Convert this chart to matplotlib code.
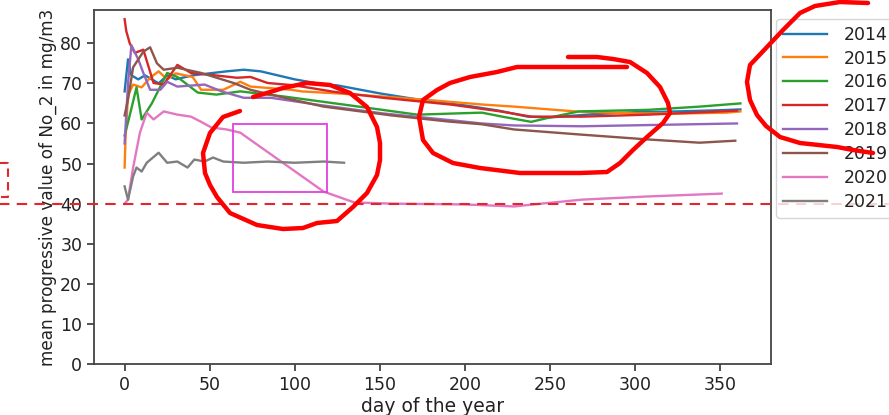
import matplotlib
matplotlib.use("Agg")
import matplotlib.pyplot as plt
from matplotlib.patches import Rectangle

# values (day of year, progressive mean NO2)
d2014 = [0, 2, 4, 8, 12, 16, 20, 25, 30, 40, 50, 60, 70, 80, 90, 100, 117, 125, 150, 172, 200, 220, 237, 250, 275, 300, 325, 350, 362]
v2014 = [68, 76, 72, 71, 72, 71, 70, 72, 71, 72, 72.5, 73, 73.4, 73, 72, 71, 69.7, 69.5, 67.5, 66, 64.5, 63.2, 61.7, 61.5, 62.3, 62.8, 63, 63.3, 63.5]

d2015 = [0, 0.5, 2, 5, 10, 15, 20, 25, 30, 40, 45, 58, 68, 74, 98, 104, 125, 152, 180, 211, 229, 265, 300, 330, 354, 362]
v2015 = [49, 56, 67, 69.7, 69, 71.4, 73, 71, 72.5, 71.6, 68.4, 68.4, 70.4, 69.2, 68.4, 68, 67.5, 66.7, 65.8, 64.7, 64.2, 63, 62.5, 62.5, 62.7, 63]

d2016 = [0, 3, 7, 10, 16, 25, 31, 43, 54, 68, 94, 129, 172, 210, 222, 239, 249, 267, 308, 338, 362]
v2016 = [57, 62, 69, 61, 65, 72.6, 71.6, 67.7, 67.2, 68, 66.7, 64.7, 62.2, 62.7, 61.7, 60.4, 61.4, 63, 63.4, 64.2, 65]

d2017 = [0, 1, 3, 6, 11, 17, 23, 31, 39, 51, 66, 74, 84, 100, 123, 152, 192, 221, 239, 269, 308, 335, 360]
v2017 = [86, 83, 80, 77.6, 78.4, 70.1, 69.7, 74.6, 72.6, 72.1, 71.4, 71.6, 70.1, 69.5, 67.9, 66.4, 64.7, 63, 61.7, 61.7, 62.2, 62.7, 63.2]

d2018 = [0, 2, 4, 8, 11, 15, 21, 25, 31, 47, 57, 70, 86, 113, 152, 192, 210, 229, 269, 308, 360]
v2018 = [55, 70, 79.5, 76, 72.6, 68.4, 68.4, 70.4, 69.2, 69.7, 68, 66.4, 66.4, 64.7, 62.5, 60.8, 60, 59.5, 59.3, 59.6, 60]

d2019 = [0, 2, 5, 11, 15, 19, 23, 31, 45, 64, 74, 98, 117, 157, 190, 210, 229, 269, 308, 338, 359]
v2019 = [62, 66, 74, 77.9, 79, 75, 73.4, 73.9, 72.6, 70.1, 68.4, 66, 64.2, 62, 60.5, 59.8, 58.5, 57.2, 56, 55.2, 55.7]

d2020 = [0, 2, 5, 9, 13, 17, 23, 31, 39, 45, 51, 60, 68, 117, 135, 157, 200, 229, 245, 269, 308, 351]
v2020 = [40, 41, 49, 57.7, 62.7, 61, 63, 62.2, 61.7, 60.4, 59, 58.5, 57.7, 43, 40.3, 40, 39.8, 39.3, 40, 41, 41.8, 42.5]

d2021 = [0, 2, 5, 7, 10, 13, 20, 25, 31, 37, 41, 47, 52, 58, 70, 84, 100, 117, 129]
v2021 = [44.3, 41, 46.8, 49, 48, 50.2, 52.7, 50.2, 50.5, 49, 51, 50.5, 51.5, 50.5, 50.2, 50.5, 50.2, 50.5, 50.2]

years = ['2014', '2015', '2016', '2017', '2018', '2019', '2020', '2021']
series = [(d2014, v2014), (d2015, v2015), (d2016, v2016), (d2017, v2017),
          (d2018, v2018), (d2019, v2019), (d2020, v2020), (d2021, v2021)]
limit = 40

fig = plt.figure(figsize=(8.89, 4.15), dpi=100)
ax = fig.add_axes([94/889, 51/415, 677/889, 354/415])

for year, (d, v) in zip(years, series):
    ax.plot(d, v, lw=1.7, label=year)

ax.set_xlim(-18, 380)
ax.set_ylim(0, 88.3)
ax.set_xticks([0, 50, 100, 150, 200, 250, 300, 350])
ax.set_yticks([0, 10, 20, 30, 40, 50, 60, 70, 80])
ax.tick_params(labelsize=12.5, color='#333333', width=1.2, length=5, labelcolor='#222222')
for s in ax.spines.values():
    s.set_color('#444444')
    s.set_linewidth(1.3)
ax.set_xlabel('day of the year', fontsize=13.5, labelpad=2, color='#222222')
ax.set_ylabel('mean progressive value of No_2 in mg/m3', fontsize=12.2, labelpad=2,
              color='#222222')

# red dashed limit line drawn over the screenshot
ax.axhline(limit, xmin=-0.14, xmax=1.2, clip_on=False, color='#e3262b',
           lw=1.5, ls=(0, (5, 3.5)), zorder=3)

leg = ax.legend(loc='upper left', bbox_to_anchor=(0.995, 1), fontsize=12.5,
                handlelength=2.5, handletextpad=1.0, labelspacing=0.34)
for t in leg.get_texts():
    t.set_color('#222222')

# hand-drawn markings, in pixel space over the whole picture
ov = fig.add_axes([0, 0, 1, 1], zorder=10)
ov.set_xlim(0, 889)
ov.set_ylim(415, 0)
ov.axis('off')
ov.patch.set_alpha(0)

ring1 = [(240, 111), (223, 117), (210, 133), (203, 153), (205, 173), (210, 185), (217, 197),
         (230, 213), (257, 225), (283, 229), (303, 228), (317, 223), (337, 221), (353, 207),
         (367, 193), (377, 175), (380, 160), (380, 143), (377, 127), (367, 107), (350, 93),
         (330, 85), (307, 83), (283, 88), (267, 93), (253, 97)]
ring2 = [(627, 67), (517, 67), (497, 72), (470, 77), (450, 83), (437, 90), (423, 100),
         (419, 117), (423, 140), (433, 153), (453, 163), (480, 168), (520, 173), (580, 173),
         (607, 172), (620, 163), (633, 150), (647, 137), (663, 123), (670, 113), (668, 103),
         (660, 87), (647, 73), (630, 62), (613, 59), (597, 57), (568, 57)]
ring3 = [(868, 3), (840, 2), (815, 6), (800, 13), (783, 30), (767, 47), (750, 65), (747, 82),
         (750, 100), (757, 115), (766, 126), (780, 137), (800, 143), (837, 147), (853, 150),
         (873, 153)]
for ring in (ring1, ring2, ring3):
    xs, ys = zip(*ring)
    ov.plot(xs, ys, color='#ff0000', lw=3.2, solid_capstyle='round', solid_joinstyle='round')

ov.add_patch(Rectangle((233, 124), 94, 68, fill=False, ec='#e23fe0', lw=1.3))
ov.plot([0, 8, 8, 0], [163, 163, 197, 197], color='#e3262b', lw=1.5, ls=(0, (4, 2.5)))

fig.savefig('out.png', dpi=100)
